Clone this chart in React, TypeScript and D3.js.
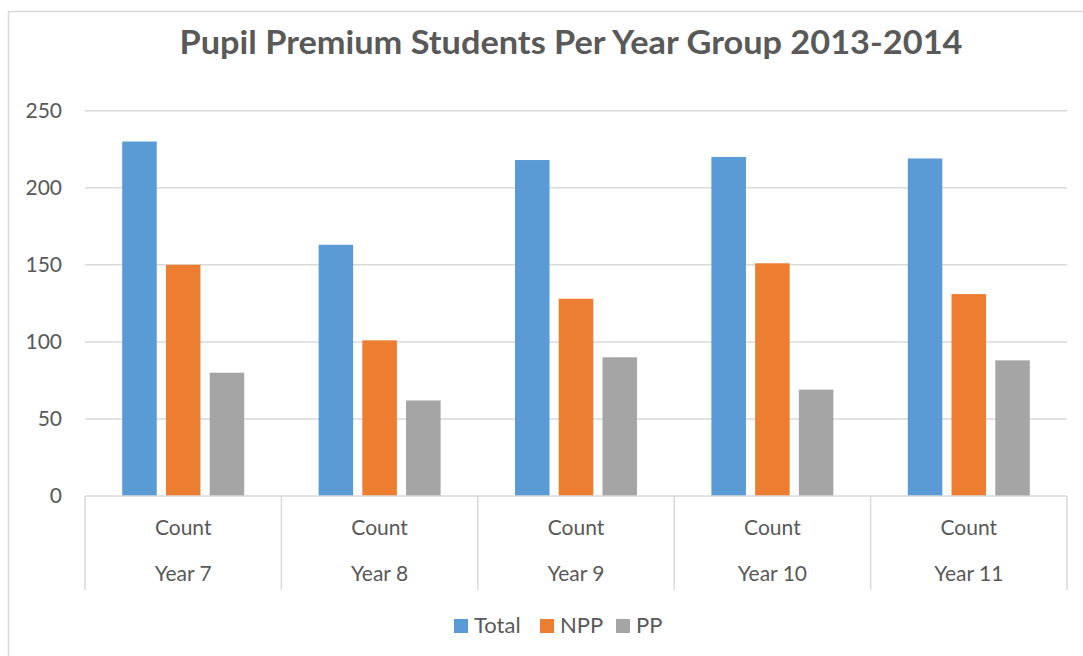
import React from "react";
import * as d3 from "d3";

const categories = ["Year 7", "Year 8", "Year 9", "Year 10", "Year 11"];
const subLabel = "Count";
const seriesNames = ["Total", "NPP", "PP"];
const totalValues = [230, 163, 218, 220, 219];
const nppValues = [150, 101, 128, 151, 131];
const ppValues = [80, 62, 90, 69, 88];
const yTicks = [0, 50, 100, 150, 200, 250];
const colors = ["#5B9BD5", "#ED7D31", "#A5A5A5"];
const title = "Pupil Premium Students Per Year Group 2013-2014";

const W = 1083;
const H = 656;
const FONT = "Lato, 'Open Sans', sans-serif";
const TEXT = "#595959";
const GRID = "#D9D9D9";

export default function App() {
  const seriesValues = [totalValues, nppValues, ppValues];
  const x0 = d3.scaleBand<string>().domain(categories).range([85, 1067]).padding(0);
  const bw = x0.bandwidth();
  const groupW = 122;
  const x1 = d3
    .scaleBand<string>()
    .domain(seriesNames)
    .range([(bw - groupW) / 2, (bw + groupW) / 2])
    .paddingInner(0.21)
    .paddingOuter(0);
  const y = d3.scaleLinear().domain([0, 250]).range([496, 110.7]);

  const legendItems = [
    { name: "Total", sx: 454, tx: 474 },
    { name: "NPP", sx: 540, tx: 560 },
    { name: "PP", sx: 616, tx: 636 },
  ];

  return (
    <svg
      width={W}
      height={H}
      style={{ position: "absolute", left: 0, top: 0, background: "#fff" }}
      fontFamily={FONT}
    >
      <rect x={0} y={0} width={W} height={H} fill="#fff" />
      <rect x={8.5} y={11.5} width={W + 10} height={H + 10} fill="none" stroke={GRID} strokeWidth={1.5} />
      <text
        x={571}
        y={54}
        textAnchor="middle"
        fontSize={32}
        fontWeight="bold"
        fill={TEXT}
        textLength={783}
        lengthAdjust="spacingAndGlyphs"
      >
        {title}
      </text>

      {yTicks.map((t) => (
        <g key={t}>
          {t > 0 && (
            <line x1={85} x2={1067} y1={y(t)} y2={y(t)} stroke={GRID} strokeWidth={1.5} />
          )}
          <text x={62} y={y(t)} dy="0.35em" textAnchor="end" fontSize={21} fill={TEXT}>
            {t}
          </text>
        </g>
      ))}

      {categories.map((c, i) => (
        <g key={c} transform={`translate(${x0(c)},0)`}>
          {seriesNames.map((s, j) => {
            const v = seriesValues[j][i];
            return (
              <rect
                key={s}
                x={x1(s)}
                y={y(v)}
                width={x1.bandwidth()}
                height={y(0) - y(v)}
                fill={colors[j]}
              />
            );
          })}
          <text x={bw / 2} y={535} textAnchor="middle" fontSize={21} fill={TEXT}>
            {subLabel}
          </text>
          <text x={bw / 2} y={581} textAnchor="middle" fontSize={21} fill={TEXT}>
            {c}
          </text>
        </g>
      ))}

      <line x1={85} x2={1067} y1={y(0)} y2={y(0)} stroke={GRID} strokeWidth={1.5} />
      {[...categories.map((c) => x0(c) as number), 1067].map((xv, i) => (
        <line key={i} x1={xv} x2={xv} y1={y(0)} y2={590} stroke={GRID} strokeWidth={1.5} />
      ))}

      {legendItems.map((l, i) => (
        <g key={l.name}>
          <rect x={l.sx} y={619} width={14} height={14} fill={colors[i]} />
          <text x={l.tx} y={633} fontSize={22} fill={TEXT}>
            {l.name}
          </text>
        </g>
      ))}
    </svg>
  );
}
